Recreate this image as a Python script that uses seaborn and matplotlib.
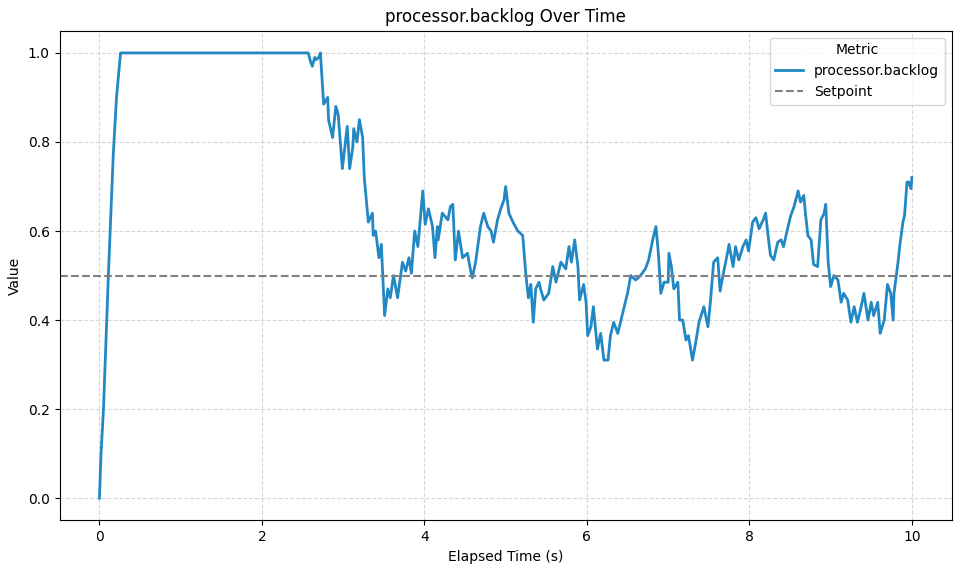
import matplotlib
matplotlib.use('Agg')
import matplotlib.pyplot as plt
import pandas as pd
import seaborn as sns

# Elapsed time (s) and processor.backlog values
elapsed = [
    0.00, 0.02, 0.05, 0.11, 0.17, 0.21, 0.26, 2.57,
    2.60, 2.62, 2.65, 2.67, 2.70, 2.72, 2.76, 2.81, 2.82, 2.87, 2.91, 2.94,
    2.99, 3.05, 3.08, 3.12, 3.13, 3.17, 3.20, 3.24, 3.26, 3.31, 3.36, 3.37,
    3.40, 3.44, 3.47, 3.51, 3.55, 3.58, 3.62, 3.67, 3.73, 3.77, 3.81, 3.84,
    3.88, 3.92, 3.98, 4.01, 4.05, 4.10, 4.13, 4.16, 4.17, 4.22, 4.29, 4.32,
    4.35, 4.38, 4.42, 4.47, 4.53, 4.57, 4.59, 4.63, 4.69, 4.73, 4.78, 4.82,
    4.85, 4.90, 4.94, 4.98, 5.00, 5.04, 5.09, 5.15, 5.21, 5.25, 5.28, 5.31,
    5.34, 5.37, 5.41, 5.43, 5.47, 5.53, 5.58, 5.62, 5.68, 5.74, 5.78, 5.81,
    5.85, 5.89, 5.91, 5.96, 5.99, 6.01, 6.05, 6.08, 6.13, 6.17, 6.21, 6.26,
    6.29, 6.33, 6.38, 6.44, 6.50, 6.54, 6.60, 6.66, 6.72, 6.76, 6.81, 6.85,
    6.88, 6.91, 6.95, 7.00, 7.01, 7.04, 7.07, 7.12, 7.14, 7.18, 7.22, 7.25,
    7.30, 7.34, 7.38, 7.44, 7.49, 7.52, 7.56, 7.61, 7.64, 7.68, 7.73, 7.75,
    7.80, 7.83, 7.87, 7.92, 7.96, 7.99, 8.04, 8.08, 8.12, 8.17, 8.20, 8.23,
    8.26, 8.30, 8.35, 8.39, 8.42, 8.47, 8.51, 8.55, 8.60, 8.63, 8.67, 8.69,
    8.72, 8.76, 8.79, 8.84, 8.88, 8.92, 8.94, 8.97, 9.00, 9.04, 9.09, 9.13,
    9.16, 9.21, 9.25, 9.29, 9.33, 9.37, 9.41, 9.46, 9.50, 9.53, 9.58, 9.61,
    9.66, 9.70, 9.74, 9.77, 9.78, 9.83, 9.85, 9.89, 9.91, 9.94, 9.96, 9.99,
    10.00,
]
backlog = [
    0.00, 0.10, 0.20, 0.50, 0.77, 0.90, 1.00, 1.00,
    0.98, 0.97, 0.99, 0.985, 0.99, 1.00, 0.885, 0.90, 0.85, 0.81, 0.88, 0.86,
    0.74, 0.835, 0.74, 0.79, 0.83, 0.80, 0.85, 0.81, 0.72, 0.62, 0.64, 0.59,
    0.60, 0.54, 0.57, 0.41, 0.47, 0.45, 0.50, 0.45, 0.53, 0.51, 0.54, 0.505,
    0.60, 0.565, 0.69, 0.615, 0.65, 0.61, 0.54, 0.61, 0.58, 0.64, 0.625, 0.655,
    0.66, 0.535, 0.60, 0.54, 0.55, 0.51, 0.495, 0.53, 0.61, 0.64, 0.61, 0.60,
    0.575, 0.625, 0.65, 0.67, 0.70, 0.64, 0.62, 0.60, 0.59, 0.50, 0.45, 0.48,
    0.395, 0.47, 0.485, 0.47, 0.445, 0.46, 0.52, 0.485, 0.53, 0.515, 0.565, 0.53,
    0.58, 0.52, 0.445, 0.48, 0.44, 0.365, 0.385, 0.43, 0.335, 0.37, 0.31, 0.31,
    0.365, 0.395, 0.37, 0.415, 0.46, 0.50, 0.49, 0.50, 0.515, 0.535, 0.58, 0.61,
    0.55, 0.46, 0.485, 0.485, 0.55, 0.52, 0.47, 0.485, 0.40, 0.40, 0.355, 0.365,
    0.31, 0.35, 0.395, 0.43, 0.385, 0.44, 0.53, 0.54, 0.465, 0.505, 0.55, 0.57,
    0.52, 0.565, 0.535, 0.565, 0.58, 0.555, 0.62, 0.63, 0.605, 0.625, 0.64, 0.59,
    0.545, 0.535, 0.575, 0.58, 0.565, 0.605, 0.635, 0.655, 0.69, 0.665, 0.68, 0.64,
    0.59, 0.58, 0.525, 0.52, 0.625, 0.64, 0.66, 0.53, 0.475, 0.50, 0.49, 0.44,
    0.46, 0.445, 0.395, 0.43, 0.395, 0.425, 0.46, 0.40, 0.44, 0.41, 0.44, 0.37,
    0.40, 0.48, 0.46, 0.40, 0.46, 0.53, 0.565, 0.62, 0.635, 0.71, 0.71, 0.695,
    0.72,
]
setpoint = 0.5
metric_name = 'processor.backlog'

df = pd.DataFrame({'Elapsed Time (s)': elapsed, 'Value': backlog})

fig, ax = plt.subplots(figsize = (9.6, 5.72), dpi = 100)

sns.lineplot(data = df, x = 'Elapsed Time (s)', y = 'Value', ax = ax,
             color = '#2188c4', linewidth = 2, label = metric_name)
ax.axhline(setpoint, color = 'gray', linestyle = '--', linewidth = 1.5, label = 'Setpoint')

ax.set_title(f'{metric_name} Over Time')
ax.set_xlabel('Elapsed Time (s)')
ax.set_ylabel('Value')
ax.set_xlim(-0.49, 10.49)
ax.set_ylim(-0.05, 1.05)
ax.grid(True, linestyle = '--', alpha = 0.5)
ax.legend(title = 'Metric', loc = 'upper right')

fig.tight_layout(pad = 0.6)
fig.savefig('out.png')
